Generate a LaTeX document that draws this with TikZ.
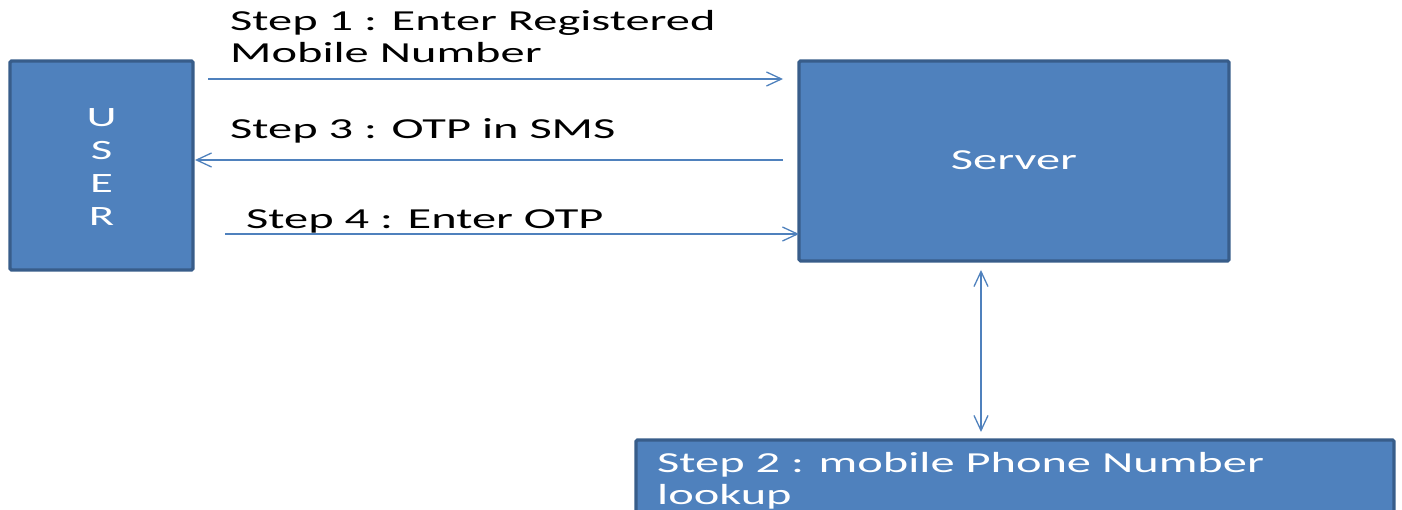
\documentclass[tikz,border=0pt]{standalone}
\usepackage{fontspec}
\usetikzlibrary{arrows.meta}
\newfontfamily\widefont[FakeStretch=1.67]{Carlito}
\definecolor{boxfill}{HTML}{4F81BD}
\definecolor{boxline}{HTML}{385D8A}
\definecolor{flow}{HTML}{4F81BD}
\tikzset{
  block/.style={draw=boxline, fill=boxfill, line width=3.2pt, rounded corners=1.5pt},
  label/.style={inner sep=0pt, align=left, font=\widefont\fontsize{29}{32}\selectfont},
  flowline/.style={draw=flow, line width=1.3pt, -{Straight Barb[length=15pt,width=14pt,line width=1.3pt]}},
  both/.style={draw=flow, line width=1.3pt, {Straight Barb[length=15pt,width=14pt,line width=1.3pt]}-{Straight Barb[length=15pt,width=14pt,line width=1.3pt]}}
}
\begin{document}
\begin{tikzpicture}[x=1pt, y=-1pt]
\useasboundingbox (0,0) rectangle (1402,510);
\clip (0,0) rectangle (1402,510);
% boxes
\path[block] (10,61) rectangle (193,270);
\path[block] (799,61) rectangle (1229,261);
\path[block] (636,440) rectangle (1394,540);
% box texts (multi-line nodes are anchored at the baseline of their last line)
\node[label, text=white, align=center, font=\widefont\fontsize{28}{33.3}\selectfont, anchor=base] (user) at (101.5,226) {U\\S\\E\\R};
\node[label, text=white, anchor=base] (server) at (1014,170) {Server};
\node[label, text=white, anchor=base west] (lookup) at (657,504) {Step 2 : mobile Phone Number\\lookup};
% step labels
\node[label, anchor=base west] (s1) at (230,63) {Step 1 : Enter Registered\\Mobile Number};
\node[label, anchor=base west] (s3) at (230,139) {Step 3 : OTP in SMS};
\node[label, anchor=base west] (s4) at (246,229) {Step 4 : Enter OTP};
% connectors
\coordinate (a1s) at (208,79);
\coordinate (a1e) at (783,79);
\coordinate (a3s) at (783,160);
\coordinate (a3e) at (195,160);
\coordinate (a4s) at (225,234);
\coordinate (a4e) at (799,234);
\coordinate (d1) at (981,270);
\coordinate (d2) at (981,432);
\draw[flowline] (a1s) -- (a1e);
\draw[flowline] (a3s) -- (a3e);
\draw[flowline] (a4s) -- (a4e);
\draw[both] (d1) -- (d2);
\end{tikzpicture}
\end{document}
